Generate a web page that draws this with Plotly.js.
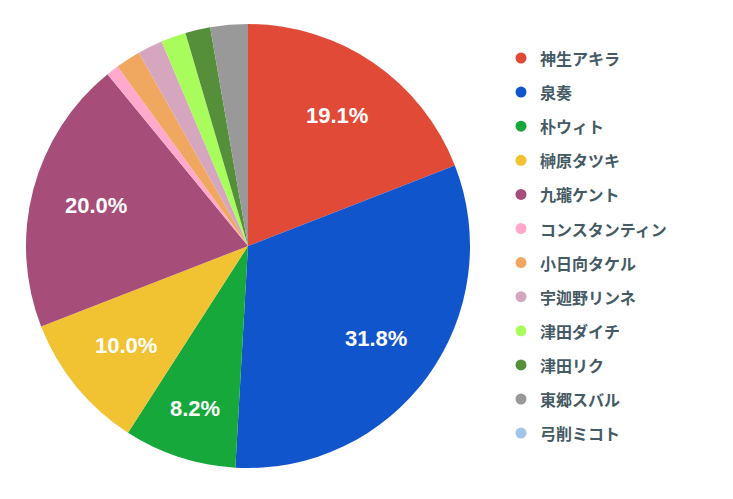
<!DOCTYPE html>
<html>
<head>
<meta charset="utf-8">
<script src="https://cdn.plot.ly/plotly-3.0.1.min.js"></script>
<style>html,body{margin:0;padding:0;background:#fff;}#chart{width:733px;height:499px;}</style>
</head>
<body>
<div id="chart"></div>
<script>
var labels = ["神生アキラ","泉奏","朴ウィト","榊原タツキ","九瓏ケント","コンスタンティン","小日向タケル","宇迦野リンネ","津田ダイチ","津田リク","東郷スバル","弓削ミコト"];
var votes = [21, 35, 9, 11, 22, 1, 2, 2, 2, 2, 3, 0];
var colors = ["#e24a38","#1155cc","#16a83a","#f1c232","#a64d79","#ffaacc","#f0a860","#d5a6bd","#a8fc5c","#558f3a","#999999","#9fc5e8"];

var W = 733, H = 499;
var cx = 248, cy = 246, R = 222;
var legendX = 538, markerX = 521, legendTop = 58, legendStep = 34.1;

var total = votes.reduce(function(a,b){return a+b;},0);

var annotations = [], shapes = [];
// slice percentage labels (placed along each slice's middle angle)
var cum = 0;
votes.forEach(function(v, i){
  var frac = v/total;
  var mid = (cum + frac/2) * 2*Math.PI;
  cum += frac;
  if (frac < 0.05) return;
  var rr = R * (frac < 0.09 ? 0.77 : 0.71);
  var px = cx + rr*Math.sin(mid), py = cy - rr*Math.cos(mid);
  annotations.push({
    text: '<b>' + (frac*100).toFixed(1) + '%</b>', xref:'paper', yref:'paper',
    x: px/W, y: 1 - py/H, xanchor:'center', yanchor:'middle', showarrow:false,
    font:{family:'"Liberation Sans", Arial, sans-serif', size:22, color:'#ffffff'}
  });
});
// legend
labels.forEach(function(lab, i){
  var yp = 1 - (legendTop + i*legendStep)/H;
  annotations.push({
    text: '<b>' + lab + '</b>', xref:'paper', yref:'paper',
    x: legendX/W, y: yp, xanchor:'left', yanchor:'middle', showarrow:false,
    font:{family:'"Noto Sans CJK JP", "Noto Sans", sans-serif', size:16, color:'#455a64'}
  });
  shapes.push({
    type:'circle', xref:'paper', yref:'paper', xsizemode:'pixel', ysizemode:'pixel',
    xanchor: markerX/W, yanchor: yp, x0:-5.5, x1:5.5, y0:-5.5, y1:5.5,
    fillcolor: colors[i], line:{width:0}
  });
});

var trace = {
  type:'pie', labels:labels, values:votes, sort:false, direction:'clockwise', rotation:0,
  marker:{colors:colors, line:{width:0}},
  textinfo:'none',
  domain:{x:[(cx-R)/W, (cx+R)/W], y:[1-(cy+R)/H, 1-(cy-R)/H]},
  hoverinfo:'label+percent', showlegend:false
};

Plotly.newPlot('chart', [trace], {
  width:W, height:H, margin:{l:0,r:0,t:0,b:0},
  paper_bgcolor:'#ffffff', showlegend:false,
  annotations:annotations, shapes:shapes
}, {displayModeBar:false, staticPlot:true});
</script>
</body>
</html>
